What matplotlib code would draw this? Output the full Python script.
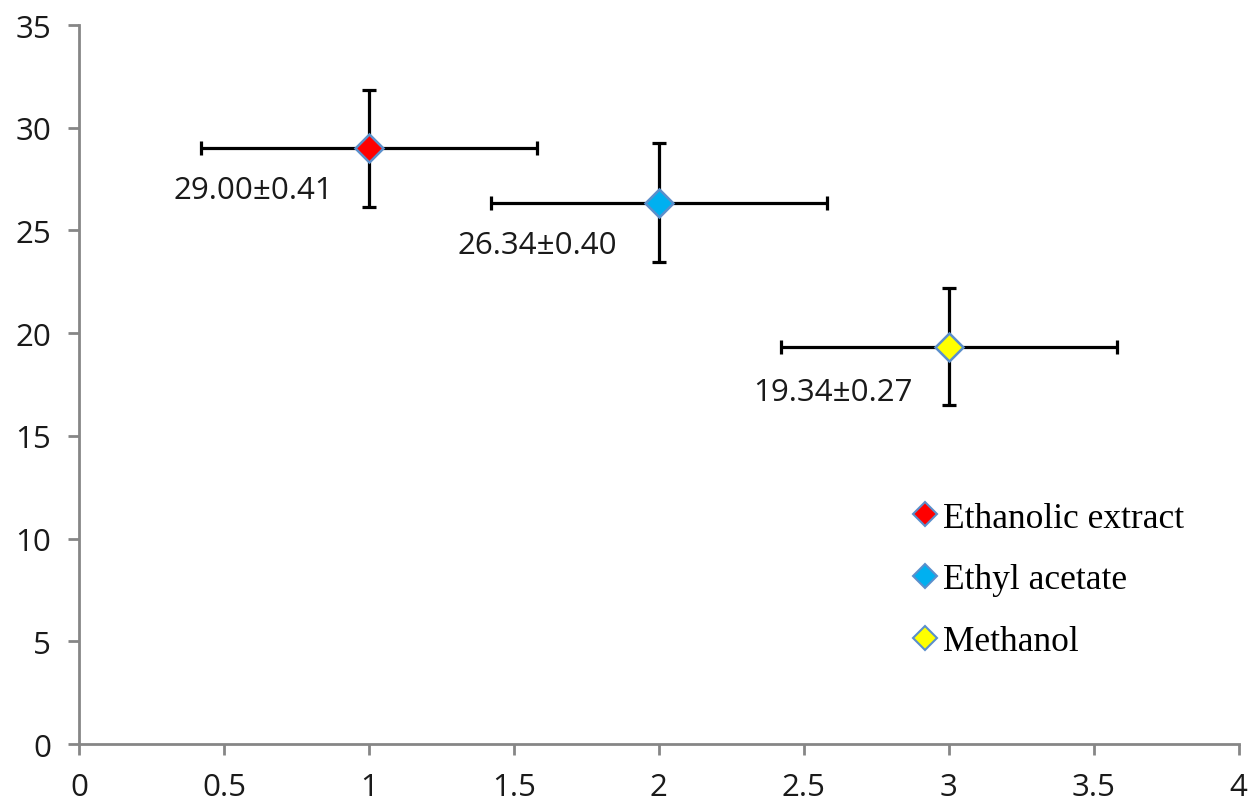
import matplotlib
matplotlib.use("Agg")
import matplotlib.pyplot as plt
from matplotlib.lines import Line2D

names = ["Ethanolic extract", "Ethyl acetate", "Methanol"]
x_vals = [1, 2, 3]
y_vals = [29.00, 26.34, 19.34]
x_err = [0.58, 0.58, 0.58]
y_err = [2.85, 2.9, 2.85]
labels = ["29.00±0.41", "26.34±0.40", "19.34±0.27"]
label_x = [0.6, 1.58, 2.6]
label_y = [26.95, 24.3, 17.15]
fill_colors = ["#FF0000", "#00B0F0", "#FFFF00"]
edge_color = "#5B8FCB"

x_ticks = [0, 0.5, 1, 1.5, 2, 2.5, 3, 3.5, 4]
x_tick_labels = ["0", "0.5", "1", "1.5", "2", "2.5", "3", "3.5", "4"]
y_ticks = [0, 5, 10, 15, 20, 25, 30, 35]

fig = plt.figure(figsize=(12.5, 8.03), dpi=100)
ax = fig.add_axes([0.0632, 0.0722, 0.9278, 0.8954])

for i in range(len(names)):
    ax.errorbar(x_vals[i], y_vals[i], xerr=x_err[i], yerr=y_err[i], fmt="none",
                ecolor="black", elinewidth=2.3, capsize=5, capthick=2.3, zorder=2)
    ax.plot(x_vals[i], y_vals[i], marker="D", markersize=14, markerfacecolor=fill_colors[i],
            markeredgecolor=edge_color, markeredgewidth=1.8, linestyle="none", zorder=3)
    ax.text(label_x[i], label_y[i], labels[i], ha="center", va="center",
            fontsize=22.5, family="Open Sans", color="#1a1a1a", zorder=4)

ax.set_xlim(0, 4)
ax.set_ylim(0, 35)
ax.set_xticks(x_ticks)
ax.set_xticklabels(x_tick_labels)
ax.set_yticks(y_ticks)
for s in ["top", "right"]:
    ax.spines[s].set_visible(False)
for s in ["left", "bottom"]:
    ax.spines[s].set_color("#868686")
    ax.spines[s].set_linewidth(2)
ax.tick_params(axis="both", direction="out", length=8, width=2, color="#868686",
               labelsize=22.5, labelcolor="#1a1a1a")
ax.tick_params(axis="x", pad=12)
ax.tick_params(axis="y", pad=12)
for lab in ax.get_xticklabels() + ax.get_yticklabels():
    lab.set_family("Open Sans")

handles = [Line2D([0], [0], marker="D", linestyle="none", markersize=12,
                  markerfacecolor=c, markeredgecolor=edge_color, markeredgewidth=1.5)
           for c in fill_colors]
leg = fig.legend(handles, names, loc="upper left", bbox_to_anchor=(0.7316, 0.374),
                 frameon=False, prop={"family": "Liberation Serif", "size": 25.5},
                 handlelength=0.6, handletextpad=0.2, labelspacing=0.81,
                 borderpad=0, borderaxespad=0)

fig.savefig("out.png", dpi=100)
